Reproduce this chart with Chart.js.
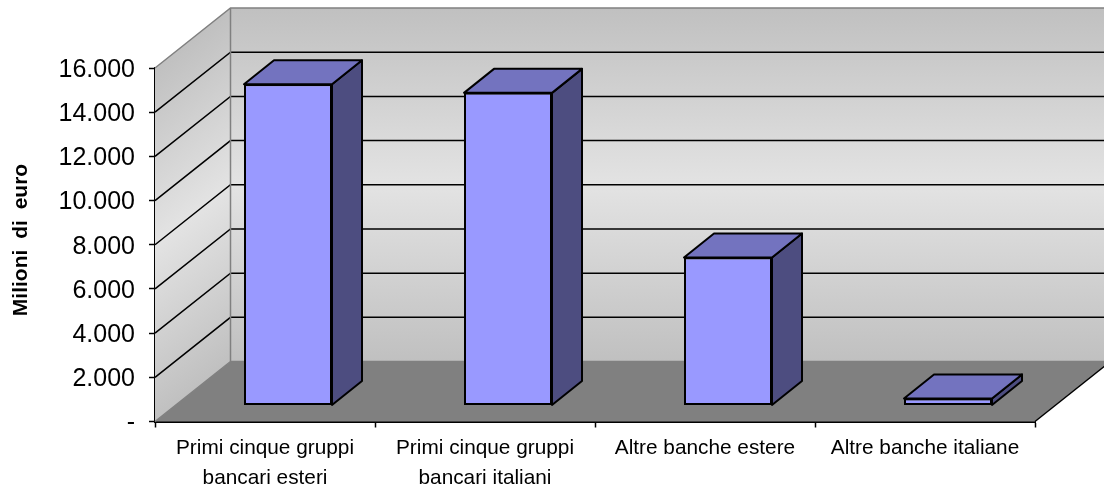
<!DOCTYPE html>
<html lang="it">
<head>
<meta charset="utf-8">
<title>Milioni di euro</title>
<script src="https://cdn.jsdelivr.net/npm/chart.js@4/dist/chart.umd.min.js"></script>
<style>
  html, body { margin: 0; padding: 0; background: #fff; }
  canvas { display: block; }
</style>
</head>
<body>
<canvas id="grafico" width="1104" height="490"></canvas>
<script>
const categorie = [
  ["Primi cinque gruppi", "bancari esteri"],
  ["Primi cinque gruppi", "bancari italiani"],
  "Altre banche estere",
  "Altre banche italiane"
];
const valori = [14540, 14150, 6700, 320];
const etichetteY = ["-", "2.000", "4.000", "6.000", "8.000", "10.000", "12.000", "14.000", "16.000"];
const titoloY = "Milioni di euro";

const FONT = "'Liberation Sans', Arial, sans-serif";

// profondita' della scatola 3D e delle barre
const BOX_DX = 75.5, BOX_DY = -60;
const BAR_DX = 30, BAR_DY = -24;
// le barre stanno a meta' del pavimento
const BAR_OFF_X = 23, BAR_OFF_Y = -16;

function poligono(ctx, punti, fill, stroke, lw) {
  ctx.beginPath();
  punti.forEach((p, i) => i ? ctx.lineTo(p[0], p[1]) : ctx.moveTo(p[0], p[1]));
  ctx.closePath();
  if (fill) { ctx.fillStyle = fill; ctx.fill(); }
  if (stroke) { ctx.strokeStyle = stroke; ctx.lineWidth = lw; ctx.stroke(); }
}

function sfumatura(ctx, y0, y1) {
  const g = ctx.createLinearGradient(0, y0, 0, y1);
  g.addColorStop(0, "#c0c0c0");
  g.addColorStop(0.5, "#e3e3e3");
  g.addColorStop(1, "#c0c0c0");
  return g;
}

// pareti, pavimento e griglia dietro alle barre
const scatola3D = {
  id: "scatola3D",
  beforeDatasetsDraw(chart) {
    const { ctx, chartArea: a, scales: { y } } = chart;
    const L = a.left, R = a.right, T = a.top, B = a.bottom;
    const w = chart.width;
    ctx.save();

    // parete di fondo
    ctx.fillStyle = sfumatura(ctx, T + BOX_DY, B + BOX_DY);
    ctx.fillRect(L + BOX_DX, T + BOX_DY, w - L - BOX_DX, B - T);

    // parete laterale, la sfumatura segue l'inclinazione
    const k = BOX_DY / BOX_DX;
    ctx.save();
    ctx.transform(1, k, 0, 1, 0, -k * L);
    ctx.fillStyle = sfumatura(ctx, T, B);
    ctx.fillRect(L, T, BOX_DX, B - T);
    ctx.restore();

    // pavimento
    poligono(ctx, [[L, B], [R, B], [R + BOX_DX, B + BOX_DY], [L + BOX_DX, B + BOX_DY]], "#808080");

    // griglia
    ctx.strokeStyle = "#000";
    ctx.lineWidth = 1.5;
    y.ticks.forEach(t => {
      if (t.value === y.min || t.value === y.max) return;
      const py = y.getPixelForValue(t.value);
      ctx.beginPath();
      ctx.moveTo(L, py);
      ctx.lineTo(L + BOX_DX, py + BOX_DY);
      ctx.lineTo(w, py + BOX_DY);
      ctx.stroke();
    });

    // bordi grigi della scatola
    ctx.strokeStyle = "#808080";
    ctx.lineWidth = 1.5;
    ctx.beginPath();
    ctx.moveTo(L, T);
    ctx.lineTo(L + BOX_DX, T + BOX_DY);
    ctx.lineTo(w, T + BOX_DY);
    ctx.moveTo(L + BOX_DX, T + BOX_DY);
    ctx.lineTo(L + BOX_DX, B + BOX_DY);
    ctx.lineTo(L, B);
    ctx.moveTo(L + BOX_DX, B + BOX_DY);
    ctx.lineTo(w, B + BOX_DY);
    ctx.stroke();

    // spigolo destro del pavimento
    ctx.strokeStyle = "#000";
    ctx.lineWidth = 1.5;
    ctx.beginPath();
    ctx.moveTo(R, B);
    ctx.lineTo(R + BOX_DX, B + BOX_DY);
    ctx.stroke();
    ctx.restore();
  },
  beforeDatasetDraw(chart) {
    chart.ctx.save();
    chart.ctx.translate(BAR_OFF_X, BAR_OFF_Y);
  },
  // facce superiore e laterale, ricavate dai rettangoli delle barre
  afterDatasetDraw(chart, args) {
    const ctx = chart.ctx;
    ctx.lineJoin = "round";
    args.meta.data.forEach(bar => {
      const l = bar.x - bar.width / 2, r = bar.x + bar.width / 2;
      const t = bar.y, b = bar.base;
      poligono(ctx, [[r, t], [r + BAR_DX, t + BAR_DY], [r + BAR_DX, b + BAR_DY], [r, b]], "#4d4d80", "#000", 2);
      poligono(ctx, [[l, t], [l + BAR_DX, t + BAR_DY], [r + BAR_DX, t + BAR_DY], [r, t]], "#7373bf", "#000", 2);
    });
    ctx.restore();
  },
  // titolo dell'asse Y, il title di Chart.js non si sposta lungo l'asse
  afterDraw(chart) {
    const ctx = chart.ctx;
    ctx.save();
    ctx.translate(21, 240);
    ctx.rotate(-Math.PI / 2);
    ctx.font = "bold 21px " + FONT;
    ctx.wordSpacing = "5px";
    ctx.fillStyle = "#000";
    ctx.textAlign = "center";
    ctx.textBaseline = "middle";
    ctx.fillText(titoloY, 0, 0);
    ctx.restore();
  }
};

new Chart(document.getElementById("grafico"), {
  type: "bar",
  data: {
    labels: categorie,
    datasets: [{
      data: valori,
      backgroundColor: "#9999ff",
      borderColor: "#000",
      borderWidth: 2,
      borderSkipped: false,
      barPercentage: 0.4,
      categoryPercentage: 1,
      clip: false
    }]
  },
  plugins: [scatola3D],
  options: {
    responsive: false,
    animation: false,
    layout: { padding: { top: 68, right: 69, left: 0, bottom: 0 } },
    plugins: { legend: { display: false }, tooltip: { enabled: false } },
    scales: {
      x: {
        afterFit(s) { s.height = 68.5; },
        grid: { drawOnChartArea: false, tickLength: 6, tickColor: "#000", tickWidth: 1.5 },
        border: { color: "#000", width: 2 },
        ticks: {
          color: "#000",
          padding: 6,
          maxRotation: 0,
          autoSkip: false,
          font: { family: FONT, size: 20.8, lineHeight: 1.44 }
        }
      },
      y: {
        min: 0,
        max: 16000,
        afterFit(s) { s.width = 155; },
        grid: { drawOnChartArea: false, tickLength: 6, tickColor: "#000", tickWidth: 1.5 },
        border: { color: "#000", width: 2 },
        ticks: {
          stepSize: 2000,
          color: "#000",
          padding: 14,
          labelOffset: 2,
          font: { family: FONT, size: 25 },
          callback: (v, i) => etichetteY[i]
        }
      }
    }
  }
});
</script>
</body>
</html>
